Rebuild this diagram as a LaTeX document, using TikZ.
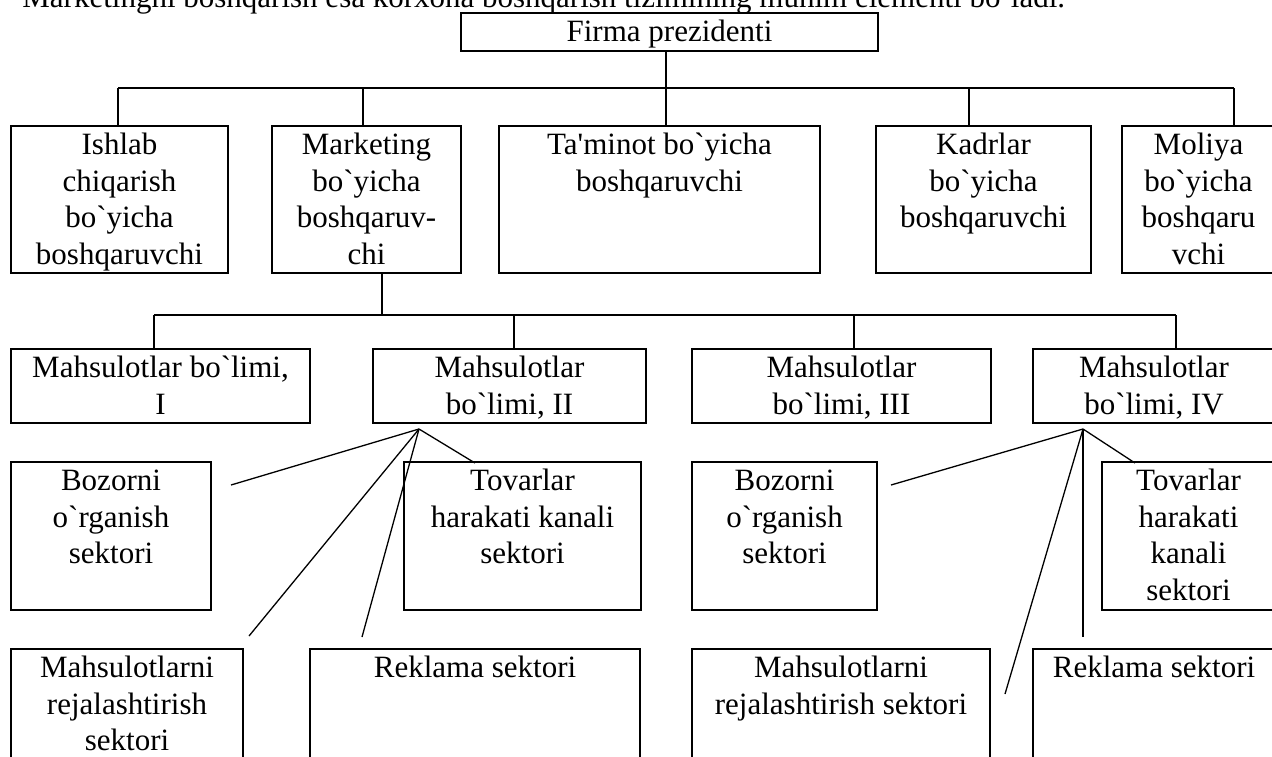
\documentclass[tikz,border=0pt]{standalone}
\usepackage{fontspec}
\setmainfont{Liberation Serif}[Ligatures=TeXOff]
\usetikzlibrary{positioning,fit}
\tikzset{
  box/.style={draw, line width=1pt, inner sep=0pt},
  txt/.style={align=center, inner sep=0pt, font=\fontsize{15.5pt}{18.3pt}\selectfont},
  link/.style={line width=0.65pt},
}

\begin{document}
\begin{tikzpicture}[x=0.5pt, y=-0.5pt]
	%%%%% START %%%%%
	\useasboundingbox (0,0) rectangle (1272,756);
	
	\node[txt, anchor=base west] (intro) at (22,7) {Marketingni boshqarish esa korxona boshqarish tizimining muhim elementi bo`ladi.};
	
	% top
	\node[box, fit={(461,13) (878,51)}] (firma) {};
	\node[txt, below=1.7pt of firma.north] (firmaT) {\strut Firma prezidenti};
	
	% first row
	\node[box, fit={(11,126) (228,273)}] (ishlab) {};
	\node[box, fit={(272,126) (461,273)}] (mark) {};
	\node[box, fit={(499,126) (820,273)}] (tamin) {};
	\node[box, fit={(876,126) (1091,273)}] (kadr) {};
	\node[box, fit={(1122,126) (1275,273)}] (moliya) {};
	\node[txt, below=1.7pt of ishlab.north] (ishlabT) {\strut Ishlab\\chiqarish\\bo`yicha\\boshqaruvchi};
	\node[txt, below=1.7pt of mark.north] (markT) {\strut Marketing\\bo`yicha\\boshqaruv-\\chi};
	\node[txt, below=1.7pt of tamin.north] (taminT) {\strut Ta'minot bo`yicha\\boshqaruvchi};
	\node[txt, below=1.7pt of kadr.north] (kadrT) {\strut Kadrlar\\bo`yicha\\boshqaruvchi};
	\node[txt, below=1.7pt of moliya.north] (moliyaT) {\strut Moliya\\bo`yicha\\boshqaru\\vchi};
	
	\coordinate (d1) at (118,88);
	\coordinate (d2) at (363,88);
	\coordinate (d3) at (666,88);
	\coordinate (d4) at (969,88);
	\coordinate (d5) at (1234,88);
	\draw[link] (firma.south -| d3) -- (d3 |- tamin.north);
	\draw[link] (d1) -- (d5);
	\draw[link] (d1) -- (d1 |- ishlab.north);
	\draw[link] (d2) -- (d2 |- mark.north);
	\draw[link] (d4) -- (d4 |- kadr.north);
	\draw[link] (d5) -- (d5 |- moliya.north);
	
	% second row
	\node[box, fit={(11,349) (310,423)}] (bo1) {};
	\node[box, fit={(373,349) (646,423)}] (bo2) {};
	\node[box, fit={(692,349) (991,423)}] (bo3) {};
	\node[box, fit={(1033,349) (1275,423)}] (bo4) {};
	\node[txt, below=1.7pt of bo1.north] (bo1T) {\strut Mahsulotlar bo`limi,\\I};
	\node[txt, below=1.7pt of bo2.north] (bo2T) {\strut Mahsulotlar\\bo`limi, II};
	\node[txt, below=1.7pt of bo3.north] (bo3T) {\strut Mahsulotlar\\bo`limi, III};
	\node[txt, below=1.7pt of bo4.north] (bo4T) {\strut Mahsulotlar\\bo`limi, IV};
	
	\coordinate (m0) at (382,315);
	\coordinate (m1) at (154,315);
	\coordinate (m2) at (514,315);
	\coordinate (m3) at (854,315);
	\coordinate (m4) at (1176,315);
	\draw[link] (mark.south -| m0) -- (m0);
	\draw[link] (m1) -- (m4);
	\draw[link] (m1) -- (m1 |- bo1.north);
	\draw[link] (m2) -- (m2 |- bo2.north);
	\draw[link] (m3) -- (m3 |- bo3.north);
	\draw[link] (m4) -- (m4 |- bo4.north);
	
	% sectors
	\node[box, fit={(11,462) (211,610)}] (boz2) {};
	\node[box, fit={(404,462) (641,610)}] (tov2) {};
	\node[box, fit={(692,462) (877,610)}] (boz4) {};
	\node[box, fit={(1102,462) (1275,610)}] (tov4) {};
	\node[txt, below=1.7pt of boz2.north] (boz2T) {\strut Bozorni\\o`rganish\\sektori};
	\node[txt, below=1.7pt of tov2.north] (tov2T) {\strut Tovarlar\\harakati kanali\\sektori};
	\node[txt, below=1.7pt of boz4.north] (boz4T) {\strut Bozorni\\o`rganish\\sektori};
	\node[txt, below=1.7pt of tov4.north] (tov4T) {\strut Tovarlar\\harakati\\kanali\\sektori};
	
	\node[box, fit={(11,649) (243,762)}] (rej2) {};
	\node[box, fit={(310,649) (640,762)}] (rek2) {};
	\node[box, fit={(692,649) (990,762)}] (rej4) {};
	\node[box, fit={(1033,649) (1275,762)}] (rek4) {};
	\node[txt, below=1.7pt of rej2.north] (rej2T) {\strut Mahsulotlarni\\rejalashtirish\\sektori};
	\node[txt, below=1.7pt of rek2.north] (rek2T) {\strut Reklama sektori};
	\node[txt, below=1.7pt of rej4.north] (rej4T) {\strut Mahsulotlarni\\rejalashtirish sektori};
	\node[txt, below=1.7pt of rek4.north] (rek4T) {\strut Reklama sektori};
	
	% fans
	\coordinate (f2) at (419,429);
	\coordinate (f2a) at (231,485);
	\coordinate (f2b) at (475,463);
	\coordinate (f2c) at (249,636);
	\coordinate (f2d) at (362,637);
	\draw[link] (f2) -- (f2a);
	\draw[link] (f2) -- (f2b);
	\draw[link] (f2) -- (f2c);
	\draw[link] (f2) -- (f2d);
	
	\coordinate (f4) at (1083,429);
	\coordinate (f4a) at (891,485);
	\coordinate (f4b) at (1135,463);
	\coordinate (f4c) at (1005,694);
	\coordinate (f4d) at (1083,637);
	\draw[link] (f4) -- (f4a);
	\draw[link] (f4) -- (f4b);
	\draw[link] (f4) -- (f4c);
	\draw[link] (f4) -- (f4d);
	
	%%%%% END %%%%%
\end{tikzpicture}
\end{document}
